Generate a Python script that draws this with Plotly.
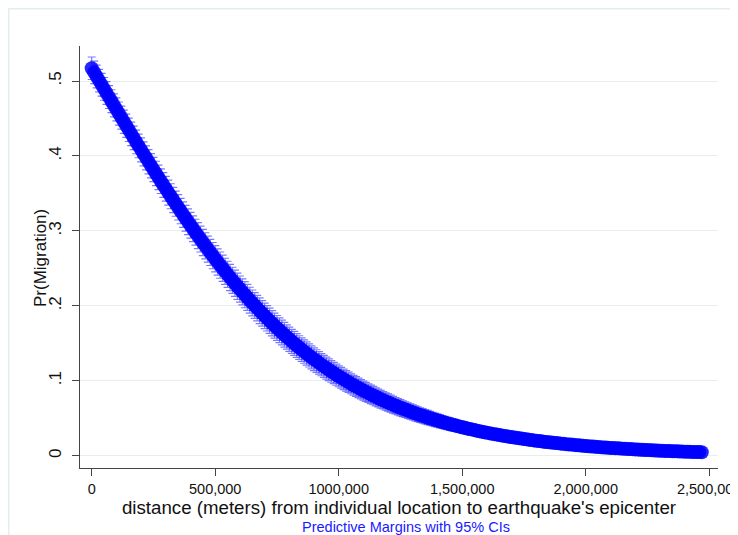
import plotly.graph_objects as go

# Evaluation grid of the margins (Stata numlist 0(10000)2470000)
distance = list(range(0, 2470001, 10000))

# Predicted Pr(Migration)
pr_migration = [
    0.5170, 0.5115, 0.5060, 0.5005, 0.4950, 0.4895, 0.4840, 0.4785, 0.4730, 0.4675,
    0.4621, 0.4566, 0.4512, 0.4457, 0.4403, 0.4349, 0.4295, 0.4241, 0.4187, 0.4134,
    0.4081, 0.4027, 0.3975, 0.3922, 0.3870, 0.3818, 0.3766, 0.3714, 0.3663, 0.3612,
    0.3562, 0.3511, 0.3462, 0.3412, 0.3363, 0.3314, 0.3265, 0.3217, 0.3169, 0.3122,
    0.3075, 0.3028, 0.2982, 0.2936, 0.2891, 0.2845, 0.2801, 0.2757, 0.2713, 0.2670,
    0.2627, 0.2585, 0.2543, 0.2501, 0.2460, 0.2420, 0.2379, 0.2340, 0.2301, 0.2262,
    0.2224, 0.2186, 0.2148, 0.2112, 0.2075, 0.2039, 0.2004, 0.1969, 0.1934, 0.1900,
    0.1866, 0.1833, 0.1801, 0.1768, 0.1736, 0.1705, 0.1674, 0.1644, 0.1614, 0.1584,
    0.1555, 0.1526, 0.1498, 0.1470, 0.1443, 0.1416, 0.1390, 0.1363, 0.1338, 0.1312,
    0.1288, 0.1263, 0.1239, 0.1215, 0.1192, 0.1169, 0.1147, 0.1124, 0.1103, 0.1081,
    0.1060, 0.1040, 0.1019, 0.0999, 0.0980, 0.0960, 0.0941, 0.0923, 0.0905, 0.0887,
    0.0869, 0.0852, 0.0835, 0.0818, 0.0802, 0.0786, 0.0770, 0.0754, 0.0739, 0.0724,
    0.0710, 0.0695, 0.0681, 0.0667, 0.0654, 0.0640, 0.0627, 0.0615, 0.0602, 0.0590,
    0.0578, 0.0566, 0.0554, 0.0543, 0.0532, 0.0521, 0.0510, 0.0499, 0.0489, 0.0479,
    0.0469, 0.0459, 0.0450, 0.0440, 0.0431, 0.0422, 0.0413, 0.0405, 0.0396, 0.0388,
    0.0380, 0.0372, 0.0364, 0.0356, 0.0349, 0.0342, 0.0334, 0.0327, 0.0320, 0.0314,
    0.0307, 0.0301, 0.0294, 0.0288, 0.0282, 0.0276, 0.0270, 0.0264, 0.0259, 0.0253,
    0.0248, 0.0243, 0.0238, 0.0232, 0.0228, 0.0223, 0.0218, 0.0213, 0.0209, 0.0204,
    0.0200, 0.0196, 0.0192, 0.0187, 0.0183, 0.0180, 0.0176, 0.0172, 0.0168, 0.0165,
    0.0161, 0.0158, 0.0154, 0.0151, 0.0148, 0.0145, 0.0141, 0.0138, 0.0135, 0.0133,
    0.0130, 0.0127, 0.0124, 0.0122, 0.0119, 0.0116, 0.0114, 0.0111, 0.0109, 0.0107,
    0.0104, 0.0102, 0.0100, 0.0098, 0.0096, 0.0094, 0.0092, 0.0090, 0.0088, 0.0086,
    0.0084, 0.0082, 0.0080, 0.0079, 0.0077, 0.0075, 0.0074, 0.0072, 0.0070, 0.0069,
    0.0067, 0.0066, 0.0064, 0.0063, 0.0062, 0.0060, 0.0059, 0.0058, 0.0057, 0.0055,
    0.0054, 0.0053, 0.0052, 0.0051, 0.0050, 0.0049, 0.0048, 0.0047,
]

# Half-width of the 95% confidence interval
ci_half = [
    0.0150, 0.0150, 0.0151, 0.0151, 0.0151, 0.0152, 0.0152, 0.0152, 0.0153, 0.0153,
    0.0153, 0.0154, 0.0154, 0.0155, 0.0155, 0.0156, 0.0157, 0.0157, 0.0158, 0.0158,
    0.0159, 0.0160, 0.0160, 0.0161, 0.0162, 0.0162, 0.0163, 0.0164, 0.0164, 0.0165,
    0.0166, 0.0167, 0.0167, 0.0168, 0.0168, 0.0169, 0.0170, 0.0170, 0.0171, 0.0171,
    0.0172, 0.0172, 0.0173, 0.0173, 0.0173, 0.0174, 0.0174, 0.0174, 0.0175, 0.0175,
    0.0175, 0.0175, 0.0175, 0.0175, 0.0175, 0.0175, 0.0175, 0.0175, 0.0175, 0.0175,
    0.0174, 0.0174, 0.0174, 0.0173, 0.0173, 0.0172, 0.0172, 0.0171, 0.0171, 0.0170,
    0.0170, 0.0169, 0.0168, 0.0168, 0.0167, 0.0166, 0.0165, 0.0165, 0.0164, 0.0163,
    0.0162, 0.0161, 0.0160, 0.0159, 0.0158, 0.0157, 0.0156, 0.0155, 0.0154, 0.0153,
    0.0152, 0.0151, 0.0150, 0.0148, 0.0147, 0.0146, 0.0145, 0.0144, 0.0142, 0.0141,
    0.0140, 0.0139, 0.0137, 0.0136, 0.0135, 0.0133, 0.0132, 0.0131, 0.0129, 0.0128,
    0.0127, 0.0126, 0.0124, 0.0123, 0.0122, 0.0120, 0.0119, 0.0118, 0.0116, 0.0115,
    0.0114, 0.0113, 0.0112, 0.0110, 0.0109, 0.0108, 0.0106, 0.0105, 0.0104, 0.0102,
    0.0101, 0.0100, 0.0099, 0.0097, 0.0096, 0.0095, 0.0094, 0.0092, 0.0091, 0.0090,
    0.0089, 0.0088, 0.0086, 0.0085, 0.0084, 0.0083, 0.0082, 0.0080, 0.0079, 0.0078,
    0.0077, 0.0076, 0.0075, 0.0074, 0.0073, 0.0072, 0.0071, 0.0070, 0.0069, 0.0068,
    0.0067, 0.0066, 0.0065, 0.0064, 0.0063, 0.0062, 0.0061, 0.0060, 0.0059, 0.0058,
    0.0058, 0.0057, 0.0056, 0.0055, 0.0054, 0.0053, 0.0052, 0.0051, 0.0050, 0.0049,
    0.0049, 0.0048, 0.0047, 0.0047, 0.0046, 0.0045, 0.0045, 0.0044, 0.0043, 0.0043,
    0.0042, 0.0041, 0.0041, 0.0040, 0.0039, 0.0039, 0.0038, 0.0038, 0.0037, 0.0036,
    0.0036, 0.0035, 0.0034, 0.0034, 0.0033, 0.0033, 0.0032, 0.0032, 0.0031, 0.0031,
    0.0030, 0.0030, 0.0029, 0.0029, 0.0028, 0.0028, 0.0027, 0.0027, 0.0026, 0.0026,
    0.0025, 0.0025, 0.0024, 0.0024, 0.0023, 0.0023, 0.0023, 0.0022, 0.0022, 0.0022,
    0.0021, 0.0021, 0.0020, 0.0020, 0.0020, 0.0019, 0.0019, 0.0019, 0.0018, 0.0018,
    0.0018, 0.0017, 0.0017, 0.0017, 0.0016, 0.0016, 0.0016, 0.0016,
]

x_tickvals = [0, 500000, 1000000, 1500000, 2000000, 2500000]
x_ticktext = ["0", "500,000", "1000,000", "1,500,000", "2,000,000", "2,500,000"]
y_tickvals = [0, 0.1, 0.2, 0.3, 0.4, 0.5]
y_ticktext = ["0", ".1", ".2", ".3", ".4", ".5"]

FONT = "Liberation Sans, Arial, sans-serif"
TXT = "#111111"

fig = go.Figure()
fig.add_trace(go.Scatter(
    x=distance,
    y=pr_migration,
    mode="markers",
    marker=dict(symbol="circle", size=14, color="rgba(0,0,255,0.85)", line=dict(width=0)),
    error_y=dict(type="data", array=ci_half, visible=True,
                 color="rgba(30,30,255,0.6)", thickness=1.2, width=4),
    showlegend=False,
    hoverinfo="skip",
))

fig.update_layout(
    width=730, height=527,
    margin=dict(l=72, r=20, t=38, b=67, autoexpand=False),
    paper_bgcolor="white",
    plot_bgcolor="white",
    font=dict(family=FONT, color=TXT),
    showlegend=False,
    xaxis=dict(
        range=[-47400, 2535600],
        tickvals=x_tickvals, ticktext=x_ticktext,
        ticks="outside", ticklen=7, tickwidth=1.2, tickcolor="#444444",
        ticklabeloverflow="allow",
        showline=True, linecolor="#444444", linewidth=1.3,
        showgrid=False, zeroline=False,
        tickfont=dict(size=14.5, family=FONT, color=TXT),
        title=dict(text="distance (meters) from individual location to earthquake's epicenter",
                   font=dict(size=18.7, family=FONT, color=TXT), standoff=1),
    ),
    yaxis=dict(
        range=[-0.0164, 0.5467],
        tickvals=y_tickvals, ticktext=y_ticktext,
        tickangle=-90,
        ticks="outside", ticklen=7, tickwidth=1.2, tickcolor="#444444",
        ticklabelstandoff=4,
        showline=True, linecolor="#444444", linewidth=1.3,
        showgrid=True, gridcolor="#e6eeee", gridwidth=1.3,
        zeroline=False,
        tickfont=dict(size=17, family=FONT, color=TXT),
    ),
    shapes=[dict(type="rect", xref="paper", yref="paper",
                 x0=-0.1117, x1=1.0235, y0=-0.2, y1=1.088,
                 line=dict(color="#e4eded", width=1.5), fillcolor="rgba(0,0,0,0)",
                 layer="below")],
    annotations=[
        dict(text="Pr(Migration)", xref="paper", yref="paper",
             x=-0.0627, y=0.4976, xanchor="center", yanchor="middle", textangle=-90,
             showarrow=False, font=dict(size=17, family=FONT, color=TXT)),
        dict(text="Predictive Margins with 95% CIs", xref="paper", yref="paper",
             x=0.511, y=-0.14, xanchor="center", yanchor="middle",
             showarrow=False, font=dict(size=14.5, family=FONT, color="#1a1aff")),
    ],
)

fig.write_html("out.html")
